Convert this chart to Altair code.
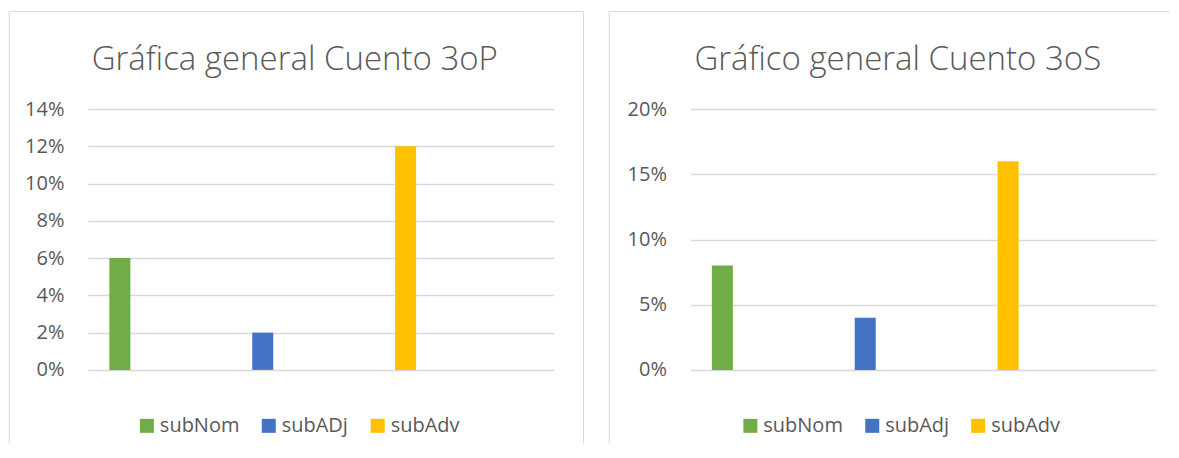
import altair as alt
import pandas as pd

# ---- data ----
left_title = "Gráfica general Cuento 3oP"
left_categories = ["subNom", "subADj", "subAdv"]
left_values = [0.06, 0.02, 0.12]
left_ticks = [0.0, 0.02, 0.04, 0.06, 0.08, 0.10, 0.12, 0.14]
left_max = 0.14

right_title = "Gráfico general Cuento 3oS"
right_categories = ["subNom", "subAdj", "subAdv"]
right_values = [0.08, 0.04, 0.16]
right_ticks = [0.0, 0.05, 0.10, 0.15, 0.20]
right_max = 0.20

bar_colors = ["#70AD47", "#4472C4", "#FFC000"]

TEXT = "#595959"
GRID = "#D9D9D9"
FONT = "Open Sans"
W = 466
H = 261
SPACING = 137


def panel(title, cats, vals, ymax, ticks, border_left, border_right, border_top,
          border_bottom, legend_x, title_dx, right_rule=True):
    df = pd.DataFrame({"cat": cats, "val": vals})
    one = pd.DataFrame({"k": [1]})

    bars = alt.Chart(df).mark_bar().encode(
        x=alt.X("cat:N", sort=cats, axis=None,
                scale=alt.Scale(paddingInner=0.853, paddingOuter=0.556, align=0.135)),
        y=alt.Y("val:Q",
                scale=alt.Scale(domain=[0, ymax], nice=False, zero=True),
                axis=alt.Axis(values=ticks, format=".0%", title=None, grid=True,
                              gridColor=GRID, gridWidth=1.5, domain=False, ticks=False,
                              labelPadding=24, labelFontSize=20, labelFont=FONT,
                              labelColor=TEXT)),
        color=alt.Color("cat:N",
                        scale=alt.Scale(domain=cats, range=bar_colors),
                        sort=cats,
                        legend=alt.Legend(orient="none", legendX=legend_x, legendY=307,
                                          direction="horizontal", title=None,
                                          symbolType="square", symbolSize=196,
                                          symbolStrokeWidth=0, labelFontSize=20,
                                          labelFont=FONT, labelColor=TEXT,
                                          labelOffset=3, columnPadding=19,
                                          padding=0)),
    )

    left_rule = alt.Chart(one).mark_rule(color=GRID, strokeWidth=1).encode(
        x=alt.value(border_left), y=alt.value(border_top), y2=alt.value(border_bottom))
    top_rule = alt.Chart(one).mark_rule(color=GRID, strokeWidth=1).encode(
        x=alt.value(border_left), x2=alt.value(border_right), y=alt.value(border_top))
    layers = [left_rule, top_rule]
    if right_rule:
        layers.append(alt.Chart(one).mark_rule(color=GRID, strokeWidth=1).encode(
            x=alt.value(border_right), y=alt.value(border_top), y2=alt.value(border_bottom)))
    layers.append(bars)

    return alt.layer(*layers).properties(
        width=W, height=H,
        title=alt.TitleParams(text=title, fontSize=33, font=FONT, fontWeight=300,
                              color=TEXT, anchor="middle", dx=title_dx, offset=-66),
    )


left = panel(left_title, left_categories, left_values, left_max, left_ticks,
             border_left=-78.8, border_right=496, border_top=-97.8, border_bottom=335,
             legend_x=49, title_dx=-26, right_rule=True)
right = panel(right_title, right_categories, right_values, right_max, right_ticks,
              border_left=-81.3, border_right=479.7, border_top=-97.8, border_bottom=335,
              legend_x=50, title_dx=-25.5, right_rule=False)

chart = alt.hconcat(left, right, spacing=SPACING, bounds="flush").resolve_scale(
    color="independent", x="independent", y="independent"
).resolve_legend(color="independent").properties(
    padding={"left": 0, "top": 2, "right": 0, "bottom": 0},
    background="white",
).configure_view(strokeWidth=0)

chart.save("out.html", embed_options={"renderer": "svg", "actions": False})
